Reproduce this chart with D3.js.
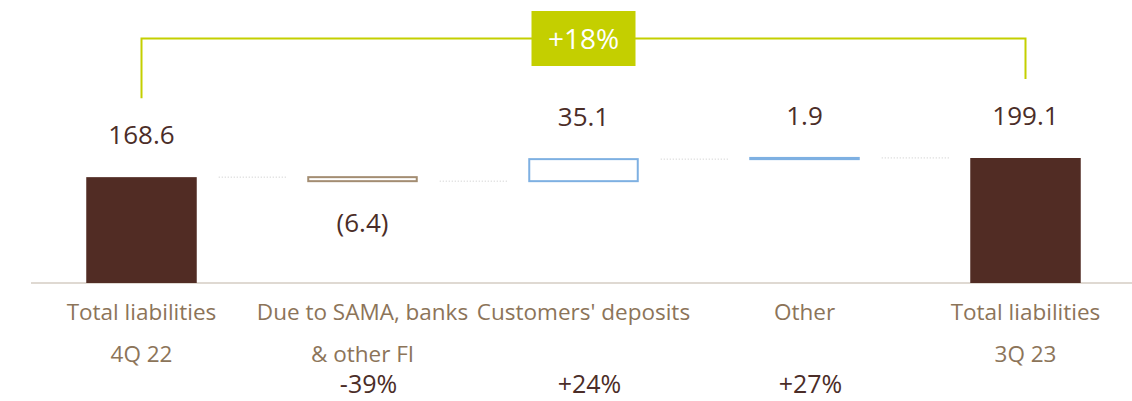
<!DOCTYPE html>
<html>
<head>
<meta charset="utf-8">
<script src="https://cdn.jsdelivr.net/npm/d3@7"></script>
<style>
  body { margin: 0; background: #fff; }
  text { font-family: "Open Sans", "Noto Sans", sans-serif; }
</style>
</head>
<body>
<script>
// data
const categories = [
    ["Total liabilities", "4Q 22"],
    ["Due to SAMA, banks", "& other FI"],
    ["Customers' deposits"],
    ["Other"],
    ["Total liabilities", "3Q 23"]
];
const values = [168.6, -6.4, 35.1, 1.9, 199.1];
const kinds = ["total", "delta", "delta", "delta", "total"];
const valueLabels = ["168.6", "(6.4)", "35.1", "1.9", "199.1"];
const changeLabels = ["", "-39%", "+24%", "+27%", ""];
const overallChange = "+18%";

function init() {
    var w = 1132;
    var h = 401;

    // waterfall start / end per step
    var running = 0;
    var steps = values.map(function(v, i) {
        var s, e;
        if (kinds[i] == "total") { s = 0; e = v; running = v; }
        else { s = running; e = running + v; running = e; }
        return {i: i, v: v, start: s, end: e, kind: kinds[i]};
    });

    var xScale = d3.scaleBand()
        .domain(d3.range(categories.length))
        .range([31, 1136])
        .paddingInner(0.5)
        .paddingOuter(0.25);

    var yScale = d3.scaleLinear()
        .domain([0, 199.1])
        .range([283, 158]);

    var svg = d3.select("body")
        .append("svg")
        .attr("width", w)
        .attr("height", h);

    // baseline
    svg.append("line")
        .attr("x1", 31).attr("x2", w)
        .attr("y1", yScale(0)).attr("y2", yScale(0))
        .attr("stroke", "#d5ccc3")
        .attr("stroke-width", 1.5);

    // dotted connectors
    svg.selectAll(".conn")
        .data(steps.slice(0, -1))
        .enter()
        .append("line")
        .attr("class", "conn")
        .attr("x1", function(d) { return xScale(d.i) + xScale.bandwidth() + 22; })
        .attr("x2", function(d) { return xScale(d.i + 1) - 21; })
        .attr("y1", function(d) { return yScale(d.end); })
        .attr("y2", function(d) { return yScale(d.end); })
        .attr("stroke", "#c8c8c8")
        .attr("stroke-width", 1)
        .attr("stroke-dasharray", "1,2");

    function strokeColor(d) {
        if (d.kind == "total") return "#512c24";
        return d.v < 0 ? "#a38d72" : "#7eb0e2";
    }

    // bars
    svg.selectAll(".bar")
        .data(steps)
        .enter()
        .append("rect")
        .attr("class", "bar")
        .attr("x", function(d) { return xScale(d.i) + (d.kind == "total" ? 0 : 1); })
        .attr("width", function(d) { return xScale.bandwidth() - (d.kind == "total" ? 0 : 2); })
        .attr("y", function(d) { return yScale(Math.max(d.start, d.end)); })
        .attr("height", function(d) { return Math.abs(yScale(d.start) - yScale(d.end)); })
        .attr("fill", function(d) { return d.kind == "total" ? "#512c24" : "#fff"; })
        .attr("stroke", strokeColor)
        .attr("stroke-width", function(d) { return d.kind == "total" ? 0 : 2; });

    // value labels
    svg.selectAll(".val")
        .data(steps)
        .enter()
        .append("text")
        .attr("class", "val")
        .attr("x", function(d) { return xScale(d.i) + xScale.bandwidth() / 2; })
        .attr("y", function(d) {
            if (d.v < 0) return yScale(Math.min(d.start, d.end)) + 51;
            return yScale(Math.max(d.start, d.end)) - 33;
        })
        .attr("text-anchor", "middle")
        .attr("font-size", 26)
        .attr("fill", "#4b2d28")
        .text(function(d) { return valueLabels[d.i]; });

    // category labels
    var cat = svg.selectAll(".cat")
        .data(categories)
        .enter()
        .append("text")
        .attr("class", "cat")
        .attr("text-anchor", "middle")
        .attr("font-size", 22.5)
        .attr("fill", "#8c7459");
    cat.selectAll("tspan")
        .data(function(d, i) { return d.map(function(t) { return {t: t, i: i}; }); })
        .enter()
        .append("tspan")
        .attr("x", function(d) { return xScale(d.i) + xScale.bandwidth() / 2; })
        .attr("y", function(d, j) { return 320 + j * 42; })
        .text(function(d) { return d.t; });

    // change percentages
    svg.selectAll(".chg")
        .data(steps.filter(function(d) { return changeLabels[d.i] != ""; }))
        .enter()
        .append("text")
        .attr("class", "chg")
        .attr("x", function(d) { return xScale(d.i) + xScale.bandwidth() / 2 + 6; })
        .attr("y", 393)
        .attr("text-anchor", "middle")
        .attr("font-size", 25)
        .attr("fill", "#4b2d28")
        .text(function(d) { return changeLabels[d.i]; });

    // overall bracket
    var first = steps[0], last = steps[steps.length - 1];
    var x1 = xScale(first.i) + xScale.bandwidth() / 2;
    var x2 = xScale(last.i) + xScale.bandwidth() / 2;
    var top = 38.5;
    svg.append("path")
        .attr("d", "M" + x1 + "," + (yScale(first.end) - 79) + "V" + top + "H" + x2 + "V" + (yScale(last.end) - 79))
        .attr("fill", "none")
        .attr("stroke", "#c4cf00")
        .attr("stroke-width", 2);

    var cx = xScale(2) + xScale.bandwidth() / 2;
    svg.append("rect")
        .attr("x", cx - 52)
        .attr("y", top - 27.5)
        .attr("width", 104)
        .attr("height", 55)
        .attr("fill", "#c4cf00");
    svg.append("text")
        .attr("x", cx)
        .attr("y", top + 10)
        .attr("text-anchor", "middle")
        .attr("font-size", 28)
        .attr("fill", "#fff")
        .text(overallChange);
}
window.onload = init;
</script>
</body>
</html>
